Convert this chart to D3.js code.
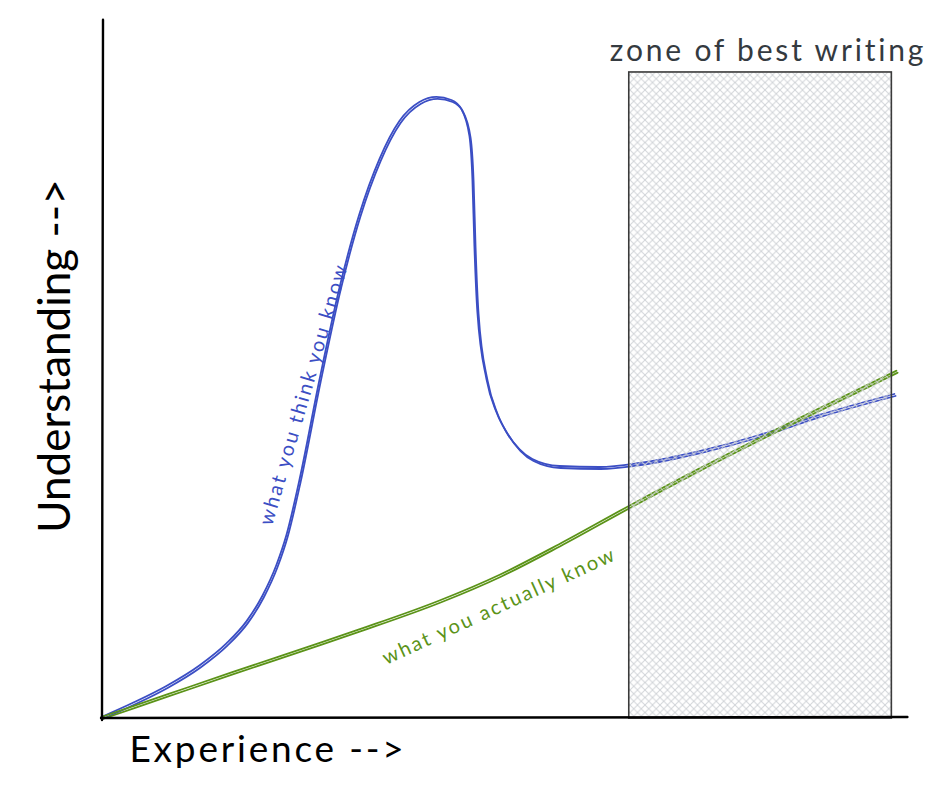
<!DOCTYPE html>
<html><head><meta charset="utf-8">
<script src="https://cdn.jsdelivr.net/npm/d3@7"></script>
<style>html,body{margin:0;padding:0;background:#fff;}svg{display:block;}</style>
</head><body>
<script>
// Data (experience units, understanding units)
const blueX = [0,0.386,0.809,1.220,1.557,1.806,2.005,2.179,2.304,2.466,2.715,2.964,3.213,3.462,3.711,3.960,4.172,4.359,4.483,4.583,4.620,4.645,4.682,4.795,4.919,5.044,5.205,5.367,5.704,6.202,6.700,7.447,8.194,8.941,9.875];
const blueY = [0,0.203,0.451,0.749,1.070,1.390,1.762,2.209,2.645,3.445,4.898,6.235,7.311,8.110,8.663,8.939,9.012,8.968,8.837,8.445,7.820,6.846,5.887,4.913,4.433,4.142,3.895,3.750,3.648,3.634,3.692,3.866,4.099,4.390,4.695];
const greenX = [0,0.81,1.63,2.71,3.21,4.21,4.96,5.70,6.58,7.45,8.57,9.90];
const greenY = [0,0.324,0.652,1.073,1.273,1.693,2.068,2.512,3.075,3.614,4.275,5.033];
const zoneRange = [6.56, 9.83];   // experience
const zoneTop = 9.39;             // understanding
const labels = {
  title: "zone of best writing",
  xLabel: "Experience -->",
  yLabel: "Understanding -->",
  blue: "what you think you know",
  green: "what you actually know"
};

const W = 946, H = 798;
const svg = d3.select("body").append("svg").attr("width", W).attr("height", H);
const x = d3.scaleLinear().domain([0, 10]).range([102, 905]);
const y = d3.scaleLinear().domain([0, 10]).range([718, 30]);
const font = "Lato, 'Noto Sans', sans-serif";

const defs = svg.append("defs");
const P = 7.5;
const pat = defs.append("pattern").attr("id", "hatch").attr("patternUnits", "userSpaceOnUse")
  .attr("width", P).attr("height", P);
pat.append("path").attr("d", `M0,0 L${P},${P} M-1,${P-1} L1,${P+1} M${P-1},-1 L${P+1},1`).attr("stroke", "#cfd2d6").attr("stroke-width", 1);
pat.append("path").attr("d", `M${P},0 L0,${P} M-1,1 L1,-1 M${P-1},${P+1} L${P+1},${P-1}`).attr("stroke", "#cfd2d6").attr("stroke-width", 1);

const blue = blueX.map((v, i) => [v, blueY[i]]);
const green = greenX.map((v, i) => [v, greenY[i]]);
const line = d3.line().x(d => x(d[0])).y(d => y(d[1])).curve(d3.curveMonotoneX);

function sketch(data, color) {
  const g = svg.append("g").attr("fill", "none").attr("stroke", color).attr("stroke-linecap", "round");
  g.append("path").attr("d", line(data)).attr("stroke-width", 1.8).attr("transform", "translate(-0.6,-1.0)");
  g.append("path").attr("d", line(data)).attr("stroke-width", 1.8).attr("transform", "translate(0.6,1.0)");
}
sketch(blue, "#3b4ec4");
sketch(green, "#5b9318");

// zone
svg.append("rect")
  .attr("x", x(zoneRange[0])).attr("y", y(zoneTop))
  .attr("width", x(zoneRange[1]) - x(zoneRange[0])).attr("height", y(0) - y(zoneTop))
  .attr("fill", "url(#hatch)").attr("fill-opacity", 0.95)
  .attr("stroke", "#3a3a3a").attr("stroke-width", 1.6);

// axes
const ax = svg.append("g").attr("stroke", "#000").attr("stroke-linecap", "round").attr("fill", "none");
ax.append("path").attr("d", `M${x(0)},${y(0) + 2} L${x(0) + 1},${y(10.15)}`).attr("stroke-width", 2.4);
ax.append("path").attr("d", `M${x(0) - 1},${y(0)} L${x(10.03)},${y(0) - 1}`).attr("stroke-width", 2.4);

// text
svg.append("text").attr("x", 768).attr("y", 61)
  .attr("text-anchor", "middle").attr("font-family", font).attr("font-size", 30).attr("letter-spacing", 2.8)
  .attr("fill", "#343a40").text(labels.title);
svg.append("text").attr("x", 268).attr("y", 762).attr("text-anchor", "middle")
  .attr("font-family", font).attr("font-size", 37).attr("letter-spacing", 2.8).attr("fill", "#000").text(labels.xLabel);
svg.append("text").attr("transform", "translate(70,356) rotate(-90)").attr("text-anchor", "middle")
  .attr("font-family", font).attr("font-size", 44).attr("fill", "#000").text(labels.yLabel);
svg.append("text").attr("transform", "translate(310,396) rotate(-73.8)").attr("text-anchor", "middle")
  .attr("font-family", font).attr("font-size", 20).attr("letter-spacing", 2.2).attr("fill", "#3b4ec4").text(labels.blue);
svg.append("text").attr("transform", "translate(502,612) rotate(-24.6)").attr("text-anchor", "middle")
  .attr("font-family", font).attr("font-size", 20).attr("letter-spacing", 2.2).attr("fill", "#5b9318").text(labels.green);
</script>
</body></html>
